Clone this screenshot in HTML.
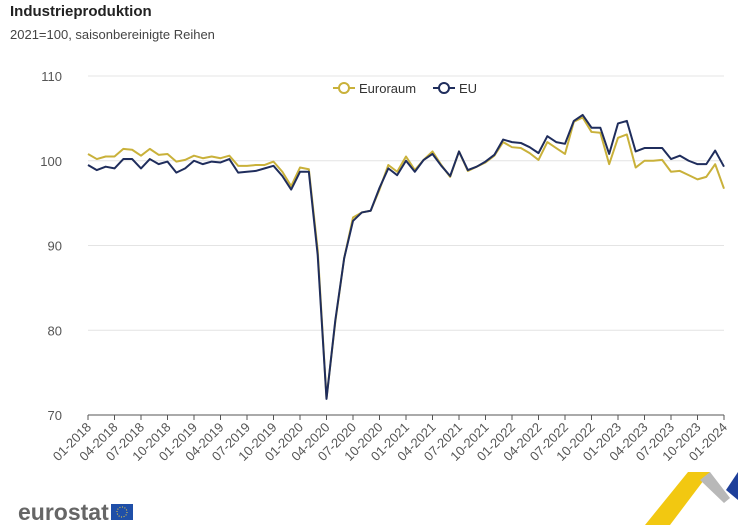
<!DOCTYPE html>
<html><head><meta charset="utf-8"><style>
body{margin:0;background:#fff;width:738px;height:525px;overflow:hidden;font-family:"Liberation Sans",sans-serif}
#t{position:absolute;left:10px;top:3px;font-size:15px;font-weight:bold;color:#222}
#s{position:absolute;left:10px;top:27px;font-size:13px;color:#444}
svg{position:absolute;left:0;top:0}
</style></head><body>
<div id="t">Industrieproduktion</div>
<div id="s">2021=100, saisonbereinigte Reihen</div>
<svg id="c" width="738" height="525"></svg>
<script>
const euro=[100.8,100.2,100.5,100.5,101.4,101.3,100.6,101.4,100.7,100.8,99.9,100.1,100.6,100.3,100.5,100.3,100.6,99.4,99.4,99.5,99.5,99.9,98.7,97.0,99.2,99.0,89.5,72.0,81.0,88.5,93.3,93.9,94.1,96.6,99.5,98.7,100.5,98.9,100.1,101.1,99.5,98.1,101.1,98.8,99.3,99.8,100.6,102.2,101.6,101.5,100.9,100.1,102.2,101.5,100.8,104.6,105.1,103.4,103.3,99.6,102.7,103.1,99.2,100.0,100.0,100.1,98.7,98.8,98.3,97.8,98.1,99.6,96.7];
const eu=[99.5,98.9,99.3,99.1,100.2,100.2,99.1,100.2,99.6,99.9,98.6,99.1,100.0,99.6,99.9,99.8,100.2,98.6,98.7,98.8,99.1,99.4,98.2,96.6,98.7,98.7,88.9,71.9,81.2,88.5,92.9,93.9,94.1,96.8,99.1,98.3,100.0,98.7,100.1,100.8,99.4,98.2,101.1,98.9,99.3,99.9,100.7,102.5,102.2,102.1,101.6,100.9,102.9,102.2,102.0,104.7,105.4,103.9,103.9,100.8,104.4,104.7,101.1,101.5,101.5,101.5,100.2,100.6,100.0,99.6,99.6,101.2,99.3];
const yTicks=[70,80,90,100,110];
const xLabels=["01-2018","04-2018","07-2018","10-2018","01-2019","04-2019","07-2019","10-2019","01-2020","04-2020","07-2020","10-2020","01-2021","04-2021","07-2021","10-2021","01-2022","04-2022","07-2022","10-2022","01-2023","04-2023","07-2023","10-2023","01-2024"];
const svg=document.getElementById('c');const NS='http://www.w3.org/2000/svg';
const X0=88,X1=724,Y0=415,Y1=76;
const x=i=>X0+(X1-X0)*i/72;
const y=v=>Y0-(v-70)/40*(Y0-Y1);
function mk(t,a){const e=document.createElementNS(NS,t);for(const k in a)e.setAttribute(k,a[k]);svg.appendChild(e);return e;}
yTicks.forEach(v=>{
 if(v>70){const g=mk('line',{x1:X0,x2:X1,y1:y(v),y2:y(v),stroke:'#e4e4e4','stroke-width':1});
 
 }
 const t=mk('text',{x:62,y:y(v)+5,'text-anchor':'end','font-size':13,fill:'#555'});t.textContent=v;
 
 
});
const ax=mk('line',{x1:X0,x2:X1,y1:Y0,y2:Y0,stroke:'#555','stroke-width':1});


xLabels.forEach((l,j)=>{const xx=x(j*3);
 const tk=mk('line',{x1:xx,x2:xx,y1:Y0,y2:Y0+5,stroke:'#555'});
 
 
 const t=mk('text',{x:xx+4,y:Y0+13,'text-anchor':'end','font-size':13,fill:'#555',transform:`rotate(-45 ${xx+4} ${Y0+13})`});t.textContent=l;
 
 
});
function line(d,col,n){const p=mk('polyline',{points:d.map((v,i)=>x(i)+','+y(v)).join(' '),fill:'none',stroke:col,'stroke-width':2,'stroke-linejoin':'round'});
 
 }
line(euro,'#c9b13a','series-euroraum');
line(eu,'#1f2d5c','series-eu');
const lg=[['Euroraum','#c9b13a',333],['EU','#1f2d5c',433]];
lg.forEach(([n,c,lx])=>{
 mk('line',{x1:lx,x2:lx+22,y1:88,y2:88,stroke:c,'stroke-width':2});
 const ci=mk('circle',{cx:lx+11,cy:88,r:5,fill:'#fff',stroke:c,'stroke-width':2});
 
 
 const t=mk('text',{x:lx+26,y:93,'font-size':13,fill:'#333'});t.textContent=n;
 
 
});
const lo=mk('text',{x:18,y:520,'font-size':23,'font-weight':'bold',fill:'#666'});lo.textContent='eurostat';


mk('rect',{x:111,y:504,width:22,height:16,fill:'#1f4fa8'});
mk('circle',{cx:122,cy:512,r:5,fill:'none',stroke:'#f4d03f','stroke-width':1,'stroke-dasharray':'1 1.6'});
mk('polygon',{points:'688,472 710,472 670,525 645,525',fill:'#f2c811'});
mk('polygon',{points:'710,472 730,498 724,503 700,480',fill:'#b8b8b8'});
mk('polygon',{points:'738,472 738,500 726,490',fill:'#1e3f9a'});
</script>
</body></html>
